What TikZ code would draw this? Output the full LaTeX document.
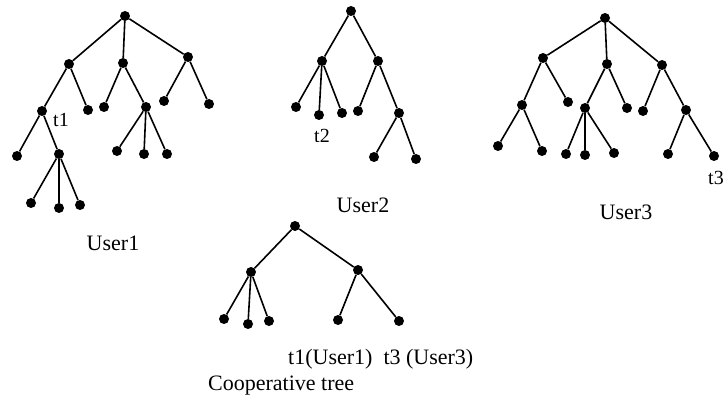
\documentclass[tikz,border=0pt]{standalone}
\usepackage{fontspec}
\setmainfont{Liberation Serif}
\begin{document}
\begin{tikzpicture}[x=1pt,y=-1pt,
  dot/.style={circle,fill=black,inner sep=0pt,minimum size=10pt},
  edge/.style={line width=1.6pt},
  lbl/.style={font=\fontsize{22}{24}\selectfont,inner sep=0pt},
  tlbl/.style={font=\fontsize{20}{22}\selectfont,inner sep=0pt}]
\useasboundingbox (0,0) rectangle (725,406);
% User1
\foreach \n/\x/\y in {u1r/125/16,u1a/69/64,u1b/123/63,u1c/188/57,
  u1a1/42/111,u1a2/88/110,u1b1/104/107,u1b2/146/107,u1c1/164/101,u1c2/209/104,
  u1a11/17/156,u1a12/59/154,u1a121/31/203,u1a122/59/208,u1a123/80/205,
  u1b21/117/151,u1b22/144/154,u1b23/167/154}
  \node[dot] (\n) at (\x,\y) {};
\foreach \a/\b in {u1r/u1a,u1r/u1b,u1r/u1c,u1a/u1a1,u1a/u1a2,u1b/u1b1,u1b/u1b2,
  u1c/u1c1,u1c/u1c2,u1a1/u1a11,u1a1/u1a12,u1a12/u1a121,u1a12/u1a122,u1a12/u1a123,
  u1b2/u1b21,u1b2/u1b22,u1b2/u1b23}
  \draw[edge] (\a) -- (\b);
\node[tlbl] (t1) at (61,120) {t1};
\node[lbl] (user1) at (113,243) {User1};
% User2
\foreach \n/\x/\y in {u2r/351/11,u2l/322/61,u2m/378/61,u2l1/296/107,u2l2/319/115,u2l3/342/113,
  u2m1/358/111,u2m2/399/113,u2m21/374/157,u2m22/416/159}
  \node[dot] (\n) at (\x,\y) {};
\foreach \a/\b in {u2r/u2l,u2r/u2m,u2l/u2l1,u2l/u2l2,u2l/u2l3,u2m/u2m1,u2m/u2m2,
  u2m2/u2m21,u2m2/u2m22}
  \draw[edge] (\a) -- (\b);
\begin{scope}
\clip (290,122) rectangle (345,141.2);
\node[tlbl] (t2) at (322,136) {t2};
\end{scope}
\node[lbl] (user2) at (363,205) {User2};
% User3
\foreach \n/\x/\y in {u3r/605/18,u3a/543/58,u3b/607/64,u3c/662/65,
  u3a1/522/105,u3a2/568/102,u3a11/498/146,u3a12/542/151,
  u3b1/585/108,u3b2/627/108,u3b11/566/154,u3b12/585/155,u3b13/614/153,
  u3c1/643/111,u3c2/686/110,u3c21/668/154,u3c22/714/156}
  \node[dot] (\n) at (\x,\y) {};
\foreach \a/\b in {u3r/u3a,u3r/u3b,u3r/u3c,u3a/u3a1,u3a/u3a2,u3a1/u3a11,u3a1/u3a12,
  u3b/u3b1,u3b/u3b2,u3b1/u3b11,u3b1/u3b12,u3b1/u3b13,u3c/u3c1,u3c/u3c2,
  u3c2/u3c21,u3c2/u3c22}
  \draw[edge] (\a) -- (\b);
\node[tlbl,anchor=west] (t3) at (708,178) {t3};
\node[lbl] (user3) at (626,212) {User3};
% Cooperative tree
\foreach \n/\x/\y in {cr/295/226,cl/251/272,cm/358/270,cl1/224/319,cl2/248/324,cl3/269/321,
  cm1/338/320,cm2/399/321}
  \node[dot] (\n) at (\x,\y) {};
\foreach \a/\b in {cr/cl,cr/cm,cl/cl1,cl/cl2,cl/cl3,cm/cm1,cm/cm2}
  \draw[edge] (\a) -- (\b);
\node[lbl,anchor=west] (tt) at (288,359) {t1(User1)\ \ t3 (User3)};
\node[lbl,anchor=west] (coop) at (208,386) {Cooperative tree};
\end{tikzpicture}
\end{document}
